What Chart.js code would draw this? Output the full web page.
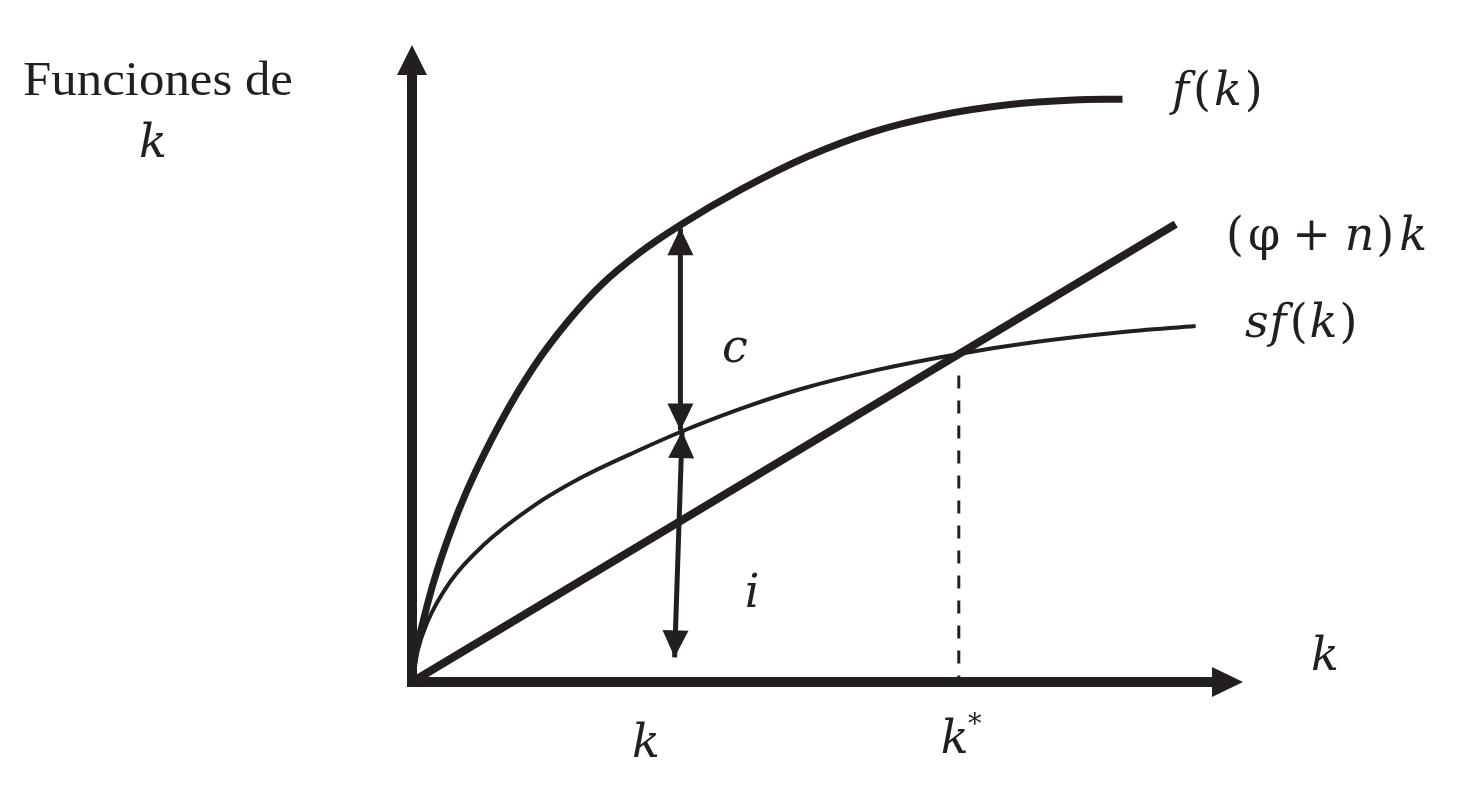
<!DOCTYPE html>
<html>
<head>
<meta charset="utf-8">
<script src="https://cdn.jsdelivr.net/npm/chart.js@4"></script>
<style>
  html, body { margin: 0; padding: 0; background: #fff; }
  #wrap { width: 1459px; height: 791px; position: relative; }
</style>
</head>
<body>
<div id="wrap"><canvas id="chart1"></canvas></div>
<script>
// f(k)
const fK = [0, 0.03, 0.1, 0.25, 0.45, 0.66, 1.06, 1.46, 1.87, 2.27, 2.75, 3.23, 3.95, 4.76, 5.55, 6.36, 7.17, 7.96, 8.55];
const fY = [0, 0.30, 0.62, 1.22, 1.85, 2.40, 3.25, 3.95, 4.52, 4.98, 5.40, 5.74, 6.18, 6.60, 6.91, 7.12, 7.25, 7.31, 7.32];
// s f(k)
const sfK = [0, 0.07, 0.18, 0.46, 0.86, 1.46, 2.06, 2.75, 3.23, 3.95, 4.68, 5.6, 6.58, 7.5, 8.5, 9.43];
const sfY = [0, 0.40, 0.74, 1.26, 1.72, 2.21, 2.58, 2.92, 3.14, 3.43, 3.68, 3.92, 4.12, 4.27, 4.39, 4.47];
// (phi + n) k
const lineK = [0, 9.19];
const lineY = [0, 5.75];
// k* y linea punteada
const kStar = 6.58;
const dashTop = 3.85;
// flechas c e i
const cArrow = [[3.23, 5.70], [3.23, 3.16]];
const iArrow = [[3.25, 3.15], [3.16, 0.31]];

const toPts = (xs, ys) => xs.map((x, i) => ({x: x, y: ys[i]}));

const IT = 'italic 46px "DejaVu Serif"';
const UP = '46px "DejaVu Serif"';

const drawHead = (ctx, x1, y1, x2, y2, len, half) => {
  // punta en (x2, y2)
  const a = Math.atan2(y2 - y1, x2 - x1);
  ctx.beginPath();
  ctx.moveTo(x2, y2);
  ctx.lineTo(x2 - len * Math.cos(a) + half * Math.sin(a), y2 - len * Math.sin(a) - half * Math.cos(a));
  ctx.lineTo(x2 - len * Math.cos(a) - half * Math.sin(a), y2 - len * Math.sin(a) + half * Math.cos(a));
  ctx.closePath();
  ctx.fill();
};

// runs: [texto, fuente, espacio despues]
const drawRuns = (ctx, runs, x, y, align, sx) => {
  let w = 0;
  const ws = runs.map(r => { ctx.font = r[1]; const m = ctx.measureText(r[0]).width; w += m + (r[2] || 0); return m; });
  w -= runs[runs.length - 1][2] || 0;
  ctx.save();
  ctx.translate(x, y);
  ctx.scale(sx || 1, 1);
  ctx.textAlign = 'left';
  ctx.textBaseline = 'middle';
  let cx = align === 'center' ? -w / 2 : 0;
  runs.forEach((r, i) => {
    ctx.font = r[1];
    ctx.fillText(r[0], cx, 0);
    cx += ws[i] + (r[2] || 0);
  });
  ctx.restore();
};

const extras = {
  id: 'extras',
  beforeDatasetsDraw(chart) {
    const {ctx, chartArea: a} = chart;
    ctx.save();
    ctx.fillStyle = '#231f20';
    ctx.strokeStyle = '#231f20';
    ctx.lineWidth = 10;
    ctx.beginPath();
    ctx.moveTo(a.left, a.bottom + 5);
    ctx.lineTo(a.left, a.top + 20);
    ctx.moveTo(a.left - 5, a.bottom);
    ctx.lineTo(a.right - 20, a.bottom);
    ctx.stroke();
    drawHead(ctx, a.left, a.bottom, a.left, a.top, 30, 15);
    drawHead(ctx, a.left, a.bottom, a.right, a.bottom, 31, 15);
    ctx.restore();
  },
  afterDatasetsDraw(chart) {
    const {ctx} = chart;
    const x = chart.scales.x, y = chart.scales.y;
    ctx.save();
    ctx.fillStyle = '#231f20';
    [cArrow, iArrow].forEach(arr => {
      const p0 = [x.getPixelForValue(arr[0][0]), y.getPixelForValue(arr[0][1])];
      const p1 = [x.getPixelForValue(arr[1][0]), y.getPixelForValue(arr[1][1])];
      drawHead(ctx, p1[0], p1[1], p0[0], p0[1], 27, 13);
      drawHead(ctx, p0[0], p0[1], p1[0], p1[1], 27, 13);
    });

    drawRuns(ctx, [['Funciones de', '48px "Liberation Serif"']], 158, 82, 'center', 1.06);
    drawRuns(ctx, [['k', IT]], 153, 145, 'center');

    drawRuns(ctx, [['f', IT, 4], ['(', UP, 3], ['k', IT, 3], [')', UP]], 1172, 93, 'left');
    drawRuns(ctx, [['(', UP, 4], ['φ', UP, 12], ['+', UP, 14], ['n', IT, 2], [')', UP, 5], ['k', IT]], 1226, 238, 'left');
    drawRuns(ctx, [['s', IT, 1], ['f', IT, 3], ['(', UP, 2], ['k', IT, 2], [')', UP]], 1245, 325, 'left');

    drawRuns(ctx, [['c', IT]], 735, 350, 'center');
    drawRuns(ctx, [['i', IT]], 752, 595, 'center');
    drawRuns(ctx, [['k', IT]], 1325, 658, 'center');
    drawRuns(ctx, [['k', IT]], 646, 745, 'center');
    drawRuns(ctx, [['k', IT]], x.getPixelForValue(kStar) - 4, 741, 'center');
    drawRuns(ctx, [['*', '27px "DejaVu Serif"']], x.getPixelForValue(kStar) + 16, 726, 'center');
    ctx.restore();
  }
};

const ctx = document.getElementById('chart1');
new Chart(ctx, {
  type: 'scatter',
  data: {
    datasets: [{
      label: 'f(k)',
      data: toPts(fK, fY),
      showLine: true,
      borderColor: '#231f20',
      borderWidth: 7,
      pointRadius: 0,
      cubicInterpolationMode: 'monotone'
    }, {
      label: 'sf(k)',
      data: toPts(sfK, sfY),
      showLine: true,
      borderColor: '#231f20',
      borderWidth: 4,
      pointRadius: 0,
      cubicInterpolationMode: 'monotone'
    }, {
      label: '(φ + n)k',
      data: toPts(lineK, lineY),
      showLine: true,
      borderColor: '#231f20',
      borderWidth: 8,
      pointRadius: 0
    }, {
      label: 'k*',
      data: [{x: kStar, y: dashTop}, {x: kStar, y: 0}],
      showLine: true,
      borderColor: '#231f20',
      borderWidth: 3,
      borderDash: [13, 12],
      pointRadius: 0
    }, {
      label: 'c',
      data: cArrow.map(p => ({x: p[0], y: p[1]})),
      showLine: true,
      borderColor: '#231f20',
      borderWidth: 5,
      pointRadius: 0
    }, {
      label: 'i',
      data: iArrow.map(p => ({x: p[0], y: p[1]})),
      showLine: true,
      borderColor: '#231f20',
      borderWidth: 5,
      pointRadius: 0
    }]
  },
  options: {
    responsive: true,
    maintainAspectRatio: false,
    animation: false,
    layout: {
      padding: {left: 412, right: 216, top: 45, bottom: 109}
    },
    plugins: {
      legend: { display: false },
      tooltip: { enabled: false }
    },
    scales: {
      x: { type: 'linear', min: 0, max: 10, display: false },
      y: { type: 'linear', min: 0, max: 8, display: false }
    }
  },
  plugins: [extras]
});
</script>
</body>
</html>
